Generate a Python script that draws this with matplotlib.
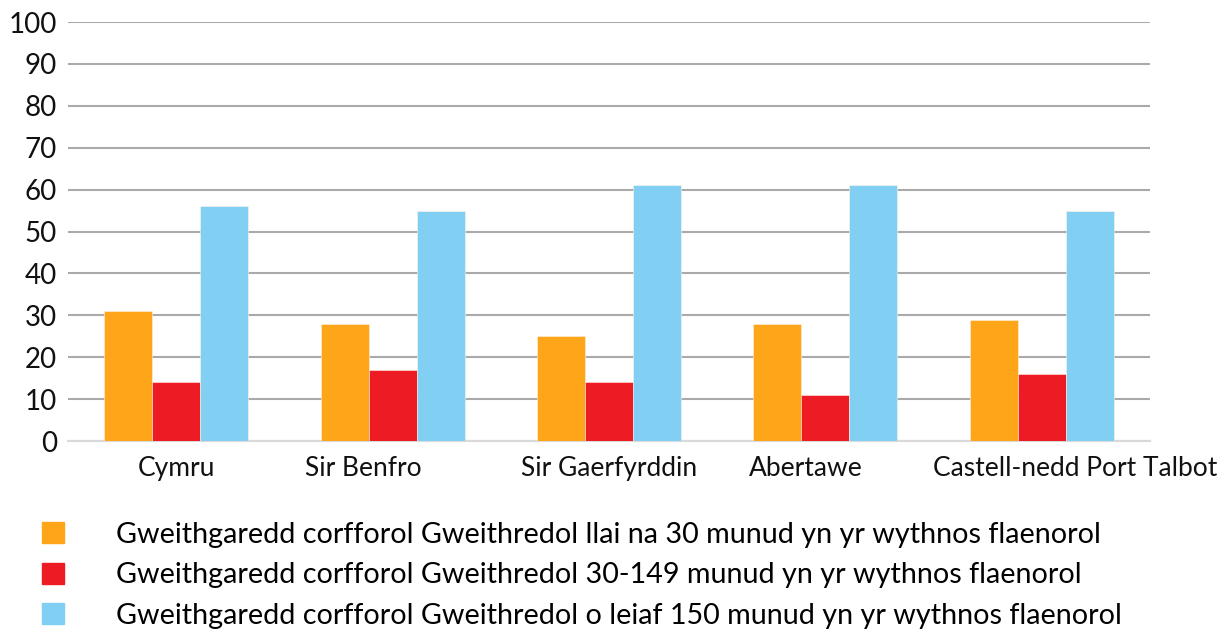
import numpy as np
import matplotlib.pyplot as plt
from matplotlib.patches import Patch
from matplotlib.transforms import ScaledTranslation

categories = ["Cymru", "Sir Benfro", "Sir Gaerfyrddin", "Abertawe",
              "Castell-nedd Port Talbot"]
llai_30 = [31, 28, 25, 28, 29]
rhwng_30_149 = [14, 17, 14, 11, 16]
o_leiaf_150 = [56, 55, 61, 61, 55]
series_labels = [
    "Gweithgaredd corfforol Gweithredol llai na 30 munud yn yr wythnos flaenorol",
    "Gweithgaredd corfforol Gweithredol 30-149 munud yn yr wythnos flaenorol",
    "Gweithgaredd corfforol Gweithredol o leiaf 150 munud yn yr wythnos flaenorol",
]
colors = ["#FFA51A", "#ED1C24", "#82CFF4"]
yticks = list(range(0, 101, 10))


def main():
    plt.rcParams["font.family"] = ["Lato", "DejaVu Sans"]
    fig = plt.figure(figsize=(12.28, 6.30), dpi=100)
    ax = fig.add_axes([0.0554, 0.30, 0.881, 0.665])

    x = np.arange(len(categories))
    w = 0.222
    for i, vals in enumerate([llai_30, rhwng_30_149, o_leiaf_150]):
        ax.bar(x + (i - 1) * w, vals, w, color=colors[i], zorder=3,
               edgecolor="#FFF3E0", linewidth=0.4)

    ax.set_xlim(-0.5, len(categories) - 0.5)
    ax.set_ylim(0, 100)
    ax.set_yticks(yticks)
    ax.set_yticklabels([str(t) for t in yticks], fontsize=20, color="#111111")
    ax.set_xticks(x)
    ax.set_xticklabels(categories, fontsize=19, color="#111111")
    ax.tick_params(axis="both", length=0)
    ax.tick_params(axis="y", pad=8)
    ax.tick_params(axis="x", pad=11)
    ax.grid(axis="y", color="#AAAAAA", linewidth=1.5, zorder=0)
    for s in ["top", "right", "left"]:
        ax.spines[s].set_visible(False)
    ax.spines["bottom"].set_color("#D9D9D9")
    ax.spines["bottom"].set_linewidth(1.5)

    # the original labels sit a little off the group centres
    shifts = [0, -29, 0, -20, 33]
    for lbl, dx in zip(ax.get_xticklabels(), shifts):
        lbl.set_transform(lbl.get_transform() +
                          ScaledTranslation(dx / 100, 0, fig.dpi_scale_trans))

    handles = [Patch(color=c) for c in colors]
    fig.legend(handles, series_labels, loc="upper left",
               bbox_to_anchor=(0.025, 0.19), frameon=False, fontsize=20.7,
               handlelength=0.75, handleheight=0.75, handletextpad=1.8,
               labelspacing=0.5, borderaxespad=0)

    fig.savefig("out.png", dpi=100)


if __name__ == "__main__":
    main()
